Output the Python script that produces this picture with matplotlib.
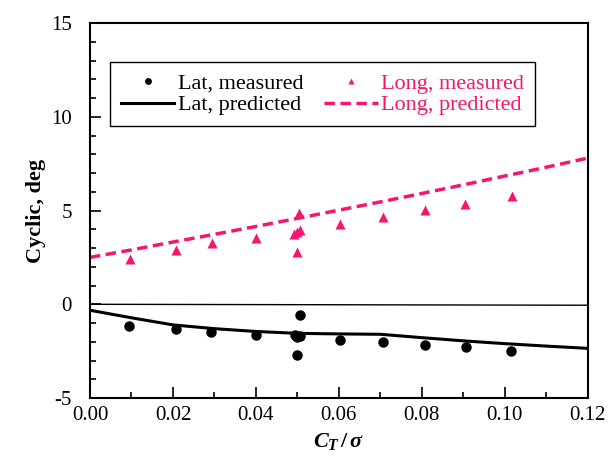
import numpy as np
import matplotlib
matplotlib.use("Agg")
import matplotlib.pyplot as plt
from matplotlib.ticker import MultipleLocator

plt.rcParams['font.family'] = ['Liberation Serif', 'DejaVu Serif']
plt.rcParams['mathtext.fontset'] = 'custom'
plt.rcParams['mathtext.rm'] = 'Liberation Serif:bold'
plt.rcParams['mathtext.it'] = 'Liberation Serif:italic:bold'
plt.rcParams['mathtext.bf'] = 'Liberation Serif:bold'
plt.rcParams['axes.unicode_minus'] = False

PINK = '#f5166f'

# Lateral cyclic, measured
lat_ct = [0.0094, 0.0207, 0.0292, 0.0400, 0.0493, 0.0499, 0.0505, 0.0506, 0.0498,
          0.0602, 0.0706, 0.0807, 0.0906, 0.1015]
lat_meas = [-1.17, -1.33, -1.49, -1.65, -1.65, -1.72, -1.68, -0.59, -2.72,
            -1.92, -2.03, -2.19, -2.29, -2.51]

# Longitudinal cyclic, measured
long_ct = [0.0096, 0.0207, 0.0293, 0.0400, 0.0492, 0.0498, 0.0505, 0.0504, 0.0499,
           0.0602, 0.0707, 0.0807, 0.0905, 0.1016]
long_meas = [2.44, 2.90, 3.29, 3.56, 3.75, 3.85, 3.95, 4.85, 2.79,
             4.27, 4.68, 5.01, 5.35, 5.78]

# Predicted curves
pred_ct = [0.0, 0.01, 0.02, 0.03, 0.04, 0.05, 0.06, 0.07, 0.08, 0.09, 0.10, 0.11, 0.12]
lat_pred = [-0.32, -0.72, -1.10, -1.30, -1.45, -1.55, -1.58, -1.60, -1.78, -1.95, -2.10, -2.23, -2.35]
long_pred = [2.50, 2.90, 3.32, 3.73, 4.15, 4.58, 5.02, 5.46, 5.91, 6.37, 6.84, 7.31, 7.80]

# thin zero reference line
zero_ct = [0.0, 0.12]
zero_val = [0.0, -0.05]

fig = plt.figure(figsize=(6.13, 4.65), dpi=100)
ax = fig.add_axes([0.1468, 0.144, 0.8122, 0.8065])

ax.plot(zero_ct, zero_val, color='black', lw=1.0)
h1, = ax.plot(lat_ct, lat_meas, 'o', color='black', ms=6.5, label='Lat, measured')
h2, = ax.plot(pred_ct, lat_pred, '-', color='black', lw=2.2, label='Lat, predicted')
h3, = ax.plot(long_ct, long_meas, '^', color=PINK, ms=7.5, mec='none', label='Long, measured')
h4, = ax.plot(pred_ct, long_pred, '--', color=PINK, lw=2.5, dashes=(3, 1.6), label='Long, predicted')

ax.set_xlim(0, 0.12)
ax.set_ylim(-5, 15)
ax.xaxis.set_major_locator(MultipleLocator(0.02))
ax.xaxis.set_minor_locator(MultipleLocator(0.01))
ax.yaxis.set_major_locator(MultipleLocator(5))
ax.yaxis.set_minor_locator(MultipleLocator(1))
ax.xaxis.set_major_formatter(matplotlib.ticker.FormatStrFormatter('%.2f'))
ax.tick_params(which='both', direction='in', top=False, right=False, labelsize=15, width=1.2)
ax.tick_params(which='major', length=8)
ax.tick_params(which='minor', length=4)
ax.tick_params(axis='x', pad=6)
ax.tick_params(axis='y', pad=13)
for s in ax.spines.values():
    s.set_linewidth(1.5)

ax.set_xlabel(r'$C_T\,/\,\sigma$', fontsize=16, labelpad=4)
ax.set_ylabel('Cyclic, deg', fontsize=16, fontweight='bold', labelpad=4)

leg = ax.legend(handles=[h1, h2, h3, h4], ncol=2, loc='upper left',
                bbox_to_anchor=(0.040, 0.896), borderaxespad=0,
                fontsize=16, labelcolor='linecolor',
                markerscale=0.6, handlelength=2.4, handletextpad=0.15,
                columnspacing=0.95, borderpad=0.5, labelspacing=0.05,
                fancybox=False, edgecolor='black', framealpha=1)
leg.get_frame().set_linewidth(1.0)

fig.savefig('out.png', dpi=100)
